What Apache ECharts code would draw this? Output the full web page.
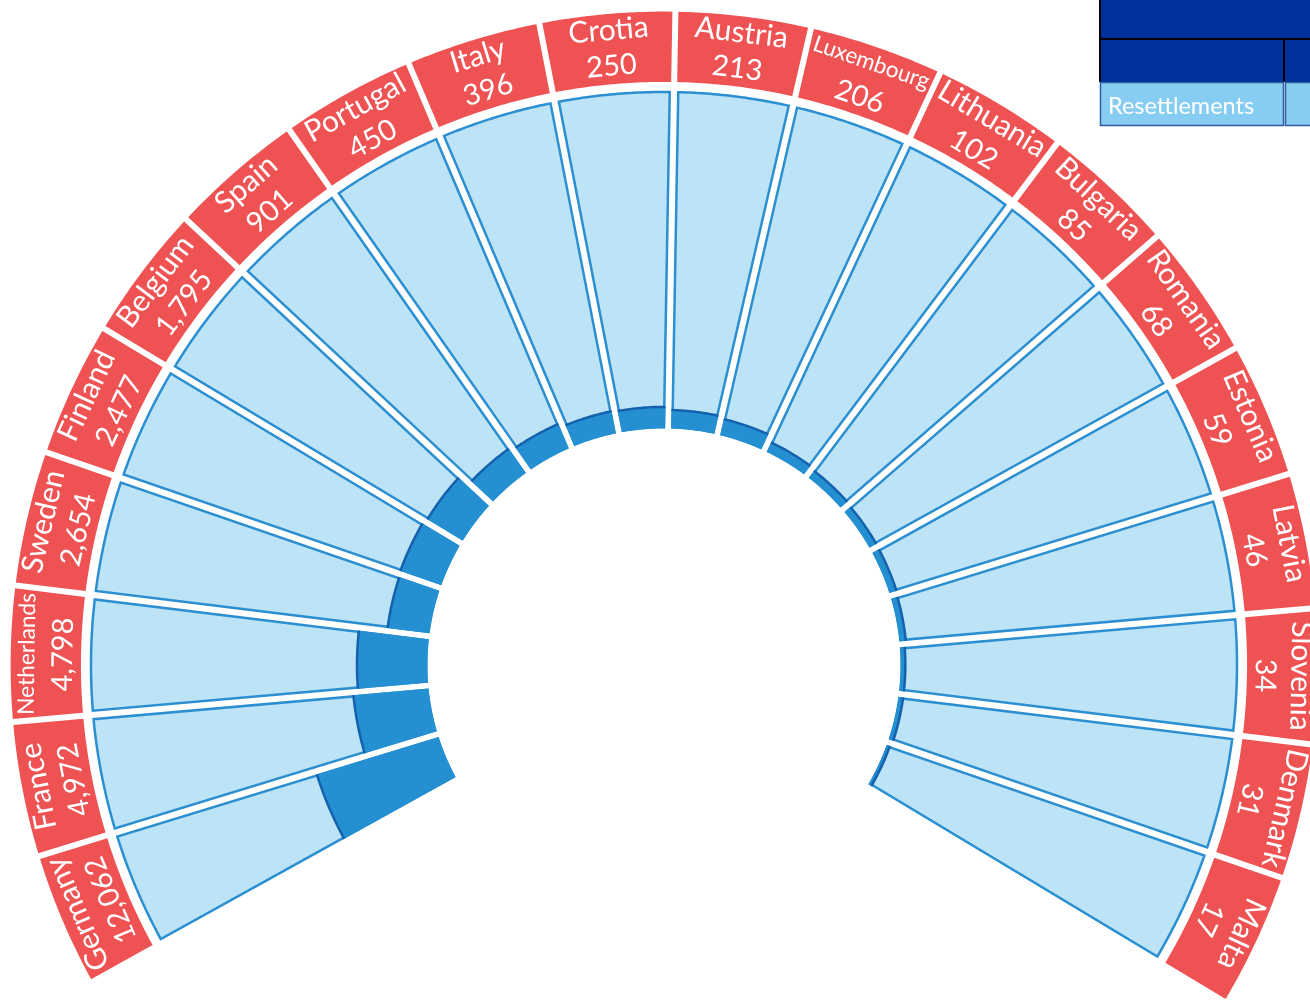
<!DOCTYPE html>
<html><head><meta charset="utf-8">
<script src="https://cdn.jsdelivr.net/npm/echarts@6/dist/echarts.min.js"></script>
<style>html,body{margin:0;padding:0;background:#fff}#c{width:1310px;height:1002px}</style>
</head><body><div id="c"></div>
<script>
// ---- data ----
const countries = ['Germany','France','Netherlands','Sweden','Finland','Belgium','Spain','Portugal','Italy','Crotia','Austria','Luxembourg','Lithuania','Bulgaria','Romania','Estonia','Latvia','Slovenia','Denmark','Malta'];
const resettlements = [12062,4972,4798,2654,2477,1795,901,450,396,250,213,206,102,85,68,59,46,34,31,17];
// dark-fill length of each bar, as % of the full light track
const fillShare = [37.6,22.1,20.6,12.2,12.5,11.9,8.4,7.5,6.3,6.0,5.1,4.5,2.7,2.2,1.9,1.8,1.5,1.0,1.0,0.6];
const tableLabels = ['Resettlements'];

// ---- layout constants (axis units) ----
const START = 209;
const SLOT = 12;
const TRACK = 100, BOX_IN = 103, BOX_OUT = 124, NAME_R = 119.1, VALUE_R = 108.4;

const mctx = document.createElement('canvas').getContext('2d');
function fitSize(text, base, maxW) {
  mctx.font = base + 'px Lato';
  const w = mctx.measureText(text).width;
  return w > maxW ? base * maxW / w : base;
}

function renderItem(params, api) {
  const i = api.value(2);
  const fill = api.value(0);
  const a0 = i * SLOT, a1 = a0 + SLOT, ac = a0 + SLOT / 2;
  const cs = params.coordSys;
  const cx = cs.cx, cy = cs.cy;
  const rpx = v => { const p = api.coord([v, ac]); return Math.hypot(p[0] - cx, p[1] - cy); };
  const off = (v, g) => Math.asin(g / rpx(v)) * 180 / Math.PI;
  const N = 28;
  function arcPts(v, g, rev) {
    const d = off(v, g), pts = [];
    for (let k = 0; k <= N; k++) {
      const t = rev ? (N - k) / N : k / N;
      pts.push(api.coord([v, a0 + d + (a1 - a0 - 2 * d) * t]));
    }
    return pts;
  }
  const band = (v0, v1, g) => arcPts(v0, g, false).concat(arcPts(v1, g, true));
  const theta = START - ac;
  const rot = (theta - 90) * Math.PI / 180;
  const np = api.coord([NAME_R, ac]);
  const vp = api.coord([VALUE_R, ac]);
  const name = countries[i];
  const nameSize = fitSize(name, 30, 122);
  return {
    type: 'group',
    children: [
      { type: 'polygon', shape: { points: band(0, TRACK, 4.25) },
        style: { fill: '#bde3f6', stroke: '#2b8fd1', lineWidth: 2.5 } },
      { type: 'polygon', shape: { points: band(-0.45, fill, 3) },
        style: { fill: '#2590d1' } },
      { type: 'polyline', shape: { points: arcPts(fill, 3, false) },
        style: { fill: null, stroke: '#1462ae', lineWidth: 2.5 } },
      { type: 'polygon', shape: { points: band(BOX_IN, BOX_OUT, 3) },
        style: { fill: '#ef5253' } },
      { type: 'text', x: np[0], y: np[1], rotation: rot,
        style: { text: name, fill: '#fff', fontSize: nameSize, fontFamily: 'Lato', align: 'center', verticalAlign: 'middle' } },
      { type: 'text', x: vp[0], y: vp[1], rotation: rot,
        style: { text: resettlements[i].toLocaleString('en-US'), fill: '#fff', fontSize: 29, fontFamily: 'Lato', align: 'center', verticalAlign: 'middle' } }
    ]
  };
}

const chart = echarts.init(document.getElementById('c'), null, { renderer: 'canvas' });
chart.setOption({
  animation: false,
  backgroundColor: '#ffffff',
  polar: { center: [664, 665], radius: [238, 653.4] },
  angleAxis: { type: 'value', min: 0, max: 360, startAngle: START, clockwise: true, show: false },
  radiusAxis: { type: 'value', min: 0, max: 124, show: false },
  series: [{
    type: 'custom',
    coordinateSystem: 'polar',
    renderItem: renderItem,
    data: countries.map((c, i) => [fillShare[i], i * SLOT + SLOT / 2, i])
  }],
  graphic: [
    { type: 'rect', shape: { x: 1100, y: 0, width: 220, height: 38 }, style: { fill: '#00309a' } },
    { type: 'rect', shape: { x: 1100, y: 40, width: 220, height: 42 }, style: { fill: '#00309a' } },
    { type: 'rect', shape: { x: 1099, y: 0, width: 2, height: 82 }, style: { fill: '#000' } },
    { type: 'rect', shape: { x: 1099, y: 38, width: 220, height: 2 }, style: { fill: '#000' } },
    { type: 'rect', shape: { x: 1283, y: 40, width: 2, height: 42 }, style: { fill: '#000' } },
    { type: 'rect', shape: { x: 1100.5, y: 82.5, width: 183, height: 43 }, style: { fill: '#87cdf1', stroke: '#2d5ca3', lineWidth: 1.5 } },
    { type: 'rect', shape: { x: 1285.5, y: 82.5, width: 40, height: 43 }, style: { fill: '#87cdf1', stroke: '#2d5ca3', lineWidth: 1.5 } },
    { type: 'text', x: 1108, y: 106, style: { text: tableLabels[0], fill: '#fff', fontSize: 23.5, fontFamily: 'Lato', verticalAlign: 'middle' } }
  ]
});
</script></body></html>
